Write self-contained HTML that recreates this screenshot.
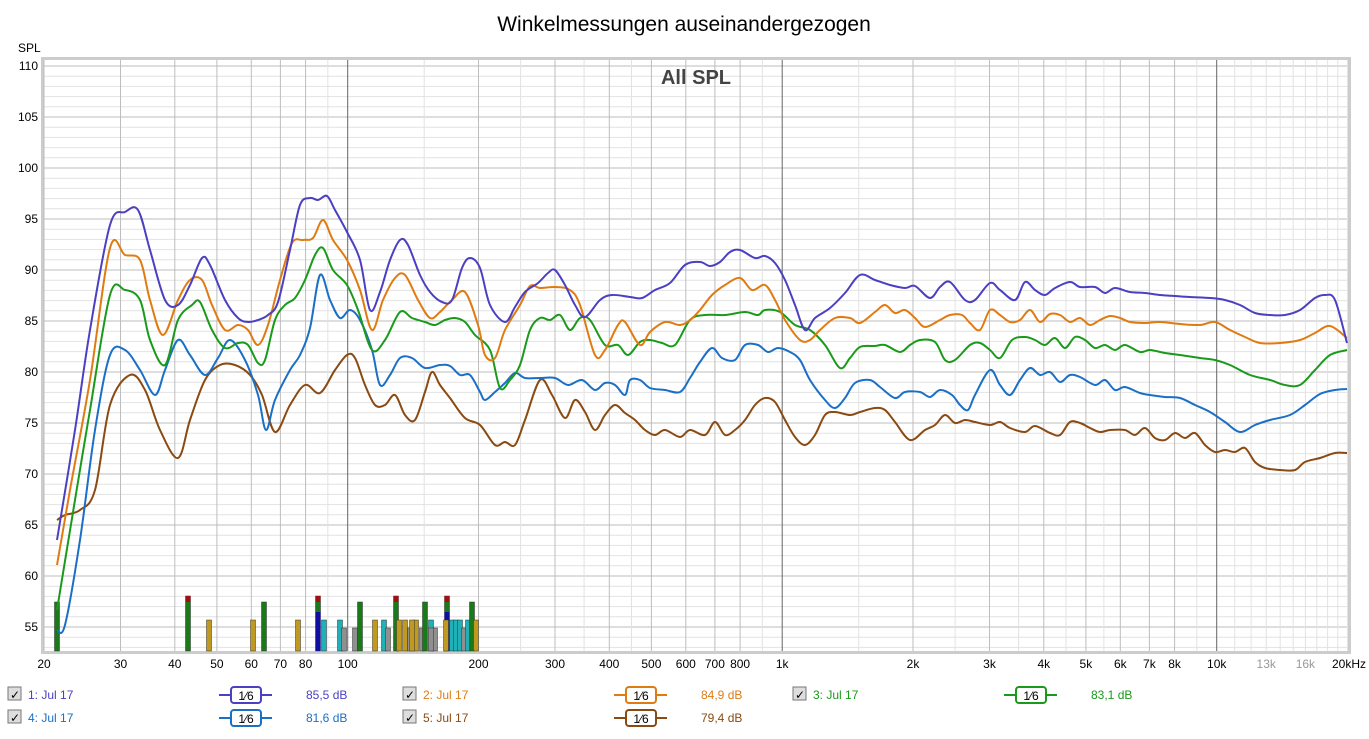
<!DOCTYPE html>
<html><head><meta charset="utf-8"><style>
body{margin:0;background:#fff;width:1369px;height:734px;overflow:hidden;font-family:"Liberation Sans",sans-serif}
</style></head><body>
<svg id="s" width="1369" height="734" xmlns="http://www.w3.org/2000/svg" font-family="Liberation Sans, sans-serif"></svg>
<script>
const s=document.getElementById('s');let h='';
const L=44,R=1348,T=60,B=651;
const X=f=>L+Math.log10(f/20)*434.5;
const Y=d=>66+(110-d)*10.2;
h+=`<text x="684" y="31" font-size="21" text-anchor="middle" fill="#000">Winkelmessungen auseinandergezogen</text>`;
h+=`<text x="18" y="52" font-size="12">SPL</text>`;
h+=`<rect x="${L-3}" y="${T-3}" width="${R-L+6}" height="${B-T+6}" fill="#ccc"/><rect x="${L}" y="${T}" width="${R-L}" height="${B-T}" fill="#fff"/>`;
for(let d=53;d<=111;d++){if(Y(d)<T||Y(d)>B)continue;h+=`<line x1="${L}" x2="${R}" y1="${Y(d)}" y2="${Y(d)}" stroke="${d%5?'#e2e2e2':'#bdbdbd'}"/>`;}
for(let d=55;d<=110;d+=5)h+=`<text x="38" y="${Y(d)+4}" font-size="12" text-anchor="end">${d}</text>`;
let fs=[];for(let dec of [10,100,1000,10000])for(let k=1;k<10;k++){let f=dec*k;if(f>=20&&f<=20000)fs.push(f);}
for(let f=11000;f<20000;f+=1000)fs.push(f);
for(let f of [150,250,350,450,1500,2500,3500,4500,5500])fs.push(f);
for(let f of fs){let dark=[100,1000,10000].includes(f);let maj=[20,30,40,50,60,70,80,200,300,400,500,600,700,800,2000,3000,4000,5000,6000,7000,8000].includes(f);
h+=`<line x1="${X(f)}" x2="${X(f)}" y1="${T}" y2="${B}" stroke="${dark?'#666':maj?'#bdbdbd':'#e2e2e2'}"/>`;}
const lab=[[20,'20'],[30,'30'],[40,'40'],[50,'50'],[60,'60'],[70,'70'],[80,'80'],[100,'100'],[200,'200'],[300,'300'],[400,'400'],[500,'500'],[600,'600'],[700,'700'],[800,'800'],[1000,'1k'],[2000,'2k'],[3000,'3k'],[4000,'4k'],[5000,'5k'],[6000,'6k'],[7000,'7k'],[8000,'8k'],[10000,'10k'],[13000,'13k'],[16000,'16k']];
for(const [f,t] of lab)h+=`<text x="${X(f)}" y="668" font-size="12" text-anchor="middle" fill="${f>10000?'#999':'#000'}">${t}</text>`;
h+=`<text x="1366" y="668" font-size="12" text-anchor="end">20kHz</text>`;
h+=`<text x="696" y="84" font-size="20" font-weight="bold" text-anchor="middle" fill="#444">All SPL</text>`;
// bars
const bars=[[57,602,'g'],[188,596,'gr'],[209,620,'y'],[253,620,'y'],[264,602,'g'],[298,620,'y'],[318,596,'grb'],[324,620,'c'],[340,620,'c'],[344,628,'x'],[355,628,'x'],[360,602,'g'],[375,620,'y'],[384,620,'c'],[388,628,'x'],[396,596,'gr'],[399,620,'y'],[405,620,'y'],[410,628,'x'],[416,620,'y'],[422,628,'x'],[425,602,'g'],[431,620,'c'],[435,628,'x'],[447,596,'grb'],[452,620,'c'],[456,620,'c'],[460,620,'c'],[464,628,'x'],[468,620,'c'],[472,602,'g'],[476,620,'y'],[446,620,'y'],[412,620,'y'],[431,628,'x']];
const col={g:'#1a7a1a',y:'#c09a20',c:'#20b0b8',x:'#909090'};
for(const [x,t,k] of bars){let c=col[k[0]];
h+=`<rect x="${x-2.5}" y="${t}" width="5" height="${B-t}" fill="${k=='grb'||k=='gr'?'#1a7a1a':c}" stroke="#333" stroke-width="0.5"/>`;
if(k.includes('r'))h+=`<rect x="${x-2.5}" y="${t}" width="5" height="6" fill="#a01010"/>`;
if(k.includes('b'))h+=`<rect x="${x-2.5}" y="${t+16}" width="5" height="${B-t-16}" fill="#1010a0"/>`;}
function path(p){let d=`M${p[0][0]},${p[0][1]}`;for(let i=0;i<p.length-1;i++){let p0=p[i-1]||p[i],p1=p[i],p2=p[i+1],p3=p[i+2]||p2;
d+=` C${p1[0]+(p2[0]-p0[0])/6},${p1[1]+(p2[1]-p0[1])/6} ${p2[0]-(p3[0]-p1[0])/6},${p2[1]-(p3[1]-p1[1])/6} ${p2[0]},${p2[1]}`;}return d;}
const C5=[[57,520],[65,515],[80,510],[95,490],[110,405],[130,375],[145,390],[160,430],[178,458],[190,420],[205,380],[220,365],[235,365],[250,375],[262,395],[275,432],[290,405],[305,385],[320,393],[335,370],[347,355],[355,358],[365,385],[375,405],[385,405],[395,395],[405,415],[415,420],[425,392],[432,372],[440,385],[450,398],[465,418],[480,425],[495,445],[505,442],[515,445],[525,420],[540,380],[552,395],[565,418],[575,400],[585,412],[595,430],[605,415],[615,405],[625,413],[635,420],[645,430],[655,435],[665,430],[680,437],[690,430],[705,435],[715,422],[725,435],[735,430],[745,420],[755,405],[765,398],[775,402],[785,420],[795,437],[805,445],[815,435],[825,415],[835,412],[850,415],[860,412],[875,408],[885,410],[895,422],[910,440],[925,430],[935,425],[945,415],[955,423],[965,420],[975,422],[990,425],[1000,422],[1010,428],[1025,432],[1035,426],[1050,433],[1060,435],[1070,422],[1080,423],[1090,428],[1100,432],[1110,430],[1125,430],[1135,435],[1145,428],[1155,438],[1165,440],[1175,433],[1185,438],[1195,433],[1205,445],[1215,452],[1225,450],[1235,452],[1245,448],[1255,462],[1265,468],[1280,470],[1295,470],[1305,462],[1320,458],[1335,453],[1347,453]];
const C4=[[57,630],[65,625],[80,540],[95,430],[110,355],[125,350],[140,370],[155,395],[165,370],[178,340],[190,355],[205,375],[218,358],[230,340],[245,360],[258,395],[266,430],[275,400],[290,370],[300,355],[310,328],[320,275],[330,300],[340,318],[350,310],[360,320],[372,350],[380,385],[390,375],[400,358],[412,358],[425,368],[440,365],[450,366],[460,375],[470,375],[480,392],[485,400],[495,392],[505,383],[515,373],[525,378],[540,378],[555,378],[568,385],[582,380],[595,390],[605,383],[615,385],[625,395],[630,380],[640,380],[650,388],[665,390],[680,392],[690,378],[700,362],[712,348],[722,358],[735,360],[745,345],[758,345],[768,352],[778,348],[790,352],[800,360],[810,380],[825,400],[835,408],[845,398],[855,383],[870,380],[880,387],[895,398],[905,392],[920,392],[930,397],[940,390],[952,395],[960,405],[968,410],[975,395],[990,370],[1000,385],[1010,395],[1020,380],[1030,368],[1040,375],[1050,372],[1060,382],[1070,375],[1080,377],[1095,385],[1105,380],[1115,390],[1125,387],[1140,393],[1150,395],[1165,397],[1180,398],[1195,405],[1210,412],[1225,422],[1240,432],[1255,425],[1270,420],[1290,415],[1305,405],[1320,394],[1335,390],[1347,389]];
const C3=[[57,610],[75,500],[90,410],[110,295],[125,290],[140,300],[150,340],[165,365],[178,320],[192,305],[200,302],[212,330],[225,348],[238,343],[248,345],[258,363],[265,360],[275,320],[285,305],[295,298],[305,280],[315,255],[323,248],[333,270],[347,285],[358,310],[372,350],[385,340],[400,312],[412,318],[425,322],[435,325],[445,320],[455,318],[465,322],[475,335],[490,350],[500,388],[510,380],[520,365],[530,330],[540,318],[550,320],[560,315],[570,330],[580,318],[590,320],[605,345],[618,345],[628,355],[640,342],[650,340],[662,343],[675,345],[690,320],[705,315],[725,315],[745,312],[758,315],[765,310],[780,312],[795,325],[810,330],[825,345],[840,368],[850,358],[860,347],[875,346],[885,345],[900,352],[910,345],[920,340],[935,342],[945,360],[955,360],[970,345],[980,343],[990,350],[1000,358],[1012,340],[1025,337],[1035,340],[1045,345],[1055,338],[1065,348],[1075,337],[1085,340],[1095,348],[1105,345],[1115,350],[1125,345],[1140,352],[1150,350],[1165,353],[1180,355],[1200,358],[1215,360],[1230,365],[1250,375],[1270,380],[1285,385],[1300,385],[1315,370],[1330,355],[1347,350]];
const C2=[[57,565],[70,490],[90,380],[110,248],[125,255],[140,260],[150,300],[163,335],[178,300],[190,280],[202,280],[212,305],[225,330],[238,325],[248,330],[258,345],[268,325],[280,280],[292,243],[303,240],[313,238],[323,220],[333,240],[347,260],[360,290],[372,330],[383,300],[395,278],[405,275],[418,300],[430,318],[440,312],[452,300],[465,292],[478,325],[485,355],[495,358],[505,330],[520,305],[530,286],[540,288],[555,287],[570,290],[580,305],[595,355],[605,350],[618,325],[625,322],[640,345],[650,332],[665,322],[680,325],[690,320],[700,310],[712,295],[725,285],[740,278],[752,290],[765,285],[775,300],[785,320],[800,340],[810,340],[820,330],[835,318],[850,318],[860,323],[875,312],[885,305],[895,313],[905,310],[915,318],[925,327],[940,320],[950,315],[962,315],[970,323],[980,330],[990,310],[1000,315],[1010,322],[1020,320],[1030,310],[1040,322],[1050,314],[1060,315],[1070,322],[1080,318],[1090,325],[1100,320],[1110,316],[1120,318],[1130,322],[1145,323],[1160,322],[1180,324],[1200,325],[1215,322],[1230,330],[1245,337],[1260,343],[1280,343],[1300,340],[1315,333],[1330,326],[1347,338]];
const C1=[[57,540],[75,430],[90,330],[110,225],[125,212],[138,210],[150,250],[165,300],[178,305],[190,285],[202,258],[210,265],[225,300],[238,318],[248,322],[258,320],[268,315],[278,302],[290,250],[300,205],[310,198],[318,200],[327,196],[335,210],[347,232],[360,260],[370,310],[380,292],[390,260],[400,240],[408,245],[420,275],[430,292],[442,302],[452,300],[462,268],[470,258],[480,268],[490,305],[505,322],[515,307],[525,292],[538,283],[548,273],[555,270],[565,285],[575,305],[585,317],[600,300],[612,295],[630,297],[642,298],[655,290],[670,283],[685,265],[700,262],[710,266],[720,262],[730,252],[740,250],[755,258],[765,256],[775,263],[785,280],[795,305],[805,330],[815,318],[830,308],[845,293],[860,275],[875,280],[890,285],[905,288],[915,286],[930,298],[940,287],[950,282],[965,300],[975,300],[990,283],[1000,290],[1015,300],[1025,282],[1035,290],[1045,295],[1055,288],[1070,282],[1080,287],[1095,287],[1105,293],[1115,288],[1130,292],[1145,293],[1160,295],[1175,296],[1190,297],[1210,298],[1225,300],[1240,305],[1255,313],[1270,315],[1285,315],[1300,310],[1315,298],[1325,295],[1335,300],[1347,343]];
const cols=['#4b3fc2','#e07b12','#1a9a1a','#1a6fc6','#8a4a12'];
[[C5,4],[C4,3],[C3,2],[C2,1],[C1,0]].forEach(([c,i])=>h+=`<path d="${path(c)}" fill="none" stroke="${cols[i]}" stroke-width="2"/>`);
// legend
const leg=[[0,695,'1: Jul 17','85,5 dB',0],[395,695,'2: Jul 17','84,9 dB',1],[785,695,'3: Jul 17','83,1 dB',2],[0,718,'4: Jul 17','81,6 dB',3],[395,718,'5: Jul 17','79,4 dB',4]];
for(const [ox,y,n,v,i] of leg){const c=cols[i];
h+=`<rect x="${ox+8}" y="${y-8}" width="13" height="13" fill="#ddd" stroke="#777"/><text x="${ox+10}" y="${y+4}" font-size="12">✓</text>`;
h+=`<text x="${ox+28}" y="${y+4}" font-size="12" fill="${c}">${n}</text>`;
h+=`<line x1="${ox+219}" x2="${ox+272}" y1="${y}" y2="${y}" stroke="${c}" stroke-width="2"/><rect x="${ox+231}" y="${y-8}" width="30" height="16" rx="3" fill="#fff" stroke="${c}" stroke-width="2"/><text x="${ox+246}" y="${y+5}" font-size="12" text-anchor="middle">1⁄6</text>`;
h+=`<text x="${ox+306}" y="${y+4}" font-size="12" fill="${c}">${v}</text>`;}
s.innerHTML=h;
</script>
</body></html>
